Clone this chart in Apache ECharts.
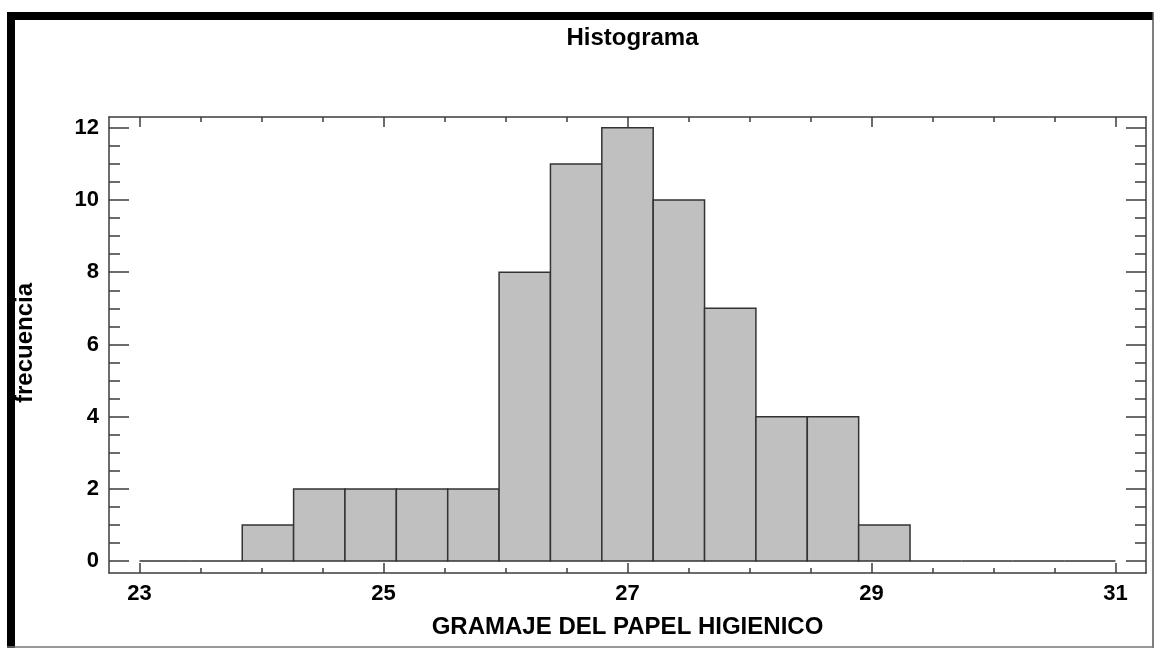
<!DOCTYPE html>
<html>
<head>
<meta charset="utf-8">
<title>Histograma</title>
<script src="https://cdn.jsdelivr.net/npm/echarts@6/dist/echarts.min.js"></script>
<style>
  html, body { margin: 0; padding: 0; background: #fff; }
  #chart { width: 1155px; height: 648px; }
</style>
</head>
<body>
<div id="chart"></div>
<script>
"use strict";

// clases del histograma: 19 clases entre 23 y 31
var classLower = 23;
var classUpper = 31;
var classCount = 19;
// frecuencia de cada clase
var frequencies = [0, 0, 1, 2, 2, 2, 2, 8, 11, 12, 10, 7, 4, 4, 1, 0, 0, 0, 0];
// etiquetas de los ejes
var xTickLabels = [23, 25, 27, 29, 31];
var yTickLabels = [0, 2, 4, 6, 8, 10, 12];

var FONT = "'Liberation Sans', Arial, sans-serif";
var AXIS_COLOR = "#3c3c3c";

function minorTicks(labels, step) {
  var out = [];
  for (var v = labels[0]; v <= labels[labels.length - 1] + 1e-9; v += step) {
    var r = Math.round(v * 100) / 100;
    if (labels.indexOf(r) < 0) out.push(r);
  }
  return out;
}

function initGraph() {
  var myChart = echarts.init(document.getElementById("chart"));
  var width = (classUpper - classLower) / classCount;
  var bins = frequencies.map(function (f, i) {
    var a = classLower + i * width;
    return [a, a + width, f];
  });

  var xMinor = minorTicks(xTickLabels, 0.5);
  var yMinor = minorTicks(yTickLabels, 0.5);

  // eje X: principal (etiquetas + marcas largas) y secundario (marcas cortas)
  function xAxis(pos, ticks, len, labels, line) {
    return {
      type: "value", position: pos, min: 22.75, max: 31.25,
      axisLine: { show: line, onZero: false, lineStyle: { color: AXIS_COLOR, width: 1.5 } },
      axisTick: { show: true, inside: true, length: len, customValues: ticks,
        lineStyle: { color: AXIS_COLOR, width: 1.5 } },
      axisLabel: { show: labels, customValues: xTickLabels, margin: 10,
        color: "#000", fontFamily: FONT, fontWeight: "bold", fontSize: 22 },
      splitLine: { show: false }
    };
  }
  function yAxis(pos, ticks, len, labels, line) {
    return {
      type: "value", position: pos, min: -0.33, max: 12.3,
      axisLine: { show: line, onZero: false, lineStyle: { color: AXIS_COLOR, width: 1.5 } },
      axisTick: { show: true, inside: true, length: len, customValues: ticks,
        lineStyle: { color: AXIS_COLOR, width: 1.5 } },
      axisLabel: { show: labels, customValues: yTickLabels, margin: 10,
        color: "#000", fontFamily: FONT, fontWeight: "bold", fontSize: 22 },
      splitLine: { show: false }
    };
  }

  var option = {
    backgroundColor: "#fff",
    animation: false,
    title: {
      text: "Histograma",
      left: 627.5, top: 21, textAlign: "center",
      textStyle: { color: "#000", fontFamily: FONT, fontWeight: "bold", fontSize: 24 }
    },
    grid: { left: 109, top: 117, right: 9, bottom: 75, containLabel: false, outerBoundsMode: "none" },
    xAxis: [
      xAxis("bottom", xTickLabels, 10, true, true),
      xAxis("bottom", xMinor, 5, false, false),
      xAxis("top", xTickLabels, 10, false, true),
      xAxis("top", xMinor, 5, false, false)
    ],
    yAxis: [
      yAxis("left", yTickLabels, 20, true, true),
      yAxis("left", yMinor, 11, false, false),
      yAxis("right", yTickLabels, 20, false, true),
      yAxis("right", yMinor, 11, false, false)
    ],
    series: [{
      type: "custom",
      xAxisIndex: 0, yAxisIndex: 0,
      encode: { x: [0, 1], y: 2 },
      data: bins,
      renderItem: function (params, api) {
        var p0 = api.coord([api.value(0), api.value(2)]);
        var p1 = api.coord([api.value(1), 0]);
        return {
          type: "rect",
          shape: { x: p0[0], y: p0[1], width: p1[0] - p0[0], height: p1[1] - p0[1] },
          style: { fill: "#c0c0c0", stroke: "#333", lineWidth: 1.5 }
        };
      }
    }],
    graphic: [
      // marco exterior
      { type: "rect", shape: { x: 7, y: 12, width: 1146, height: 8 }, style: { fill: "#000" } },
      { type: "rect", shape: { x: 7, y: 12, width: 8, height: 636 }, style: { fill: "#000" } },
      { type: "line", shape: { x1: 1153, y1: 12, x2: 1153, y2: 648 }, style: { stroke: "#555", lineWidth: 1.5 } },
      { type: "line", shape: { x1: 7, y1: 647, x2: 1153, y2: 647 }, style: { stroke: "#777", lineWidth: 1.5 } },
      // títulos de ejes
      { type: "text", x: 627.5, y: 627, style: { text: "GRAMAJE DEL PAPEL HIGIENICO",
        fill: "#000", font: "bold 24px " + FONT, align: "center", verticalAlign: "middle" } },
      { type: "text", x: 25, y: 343, rotation: Math.PI / 2, style: { text: "frecuencia",
        fill: "#000", font: "bold 24px " + FONT, align: "center", verticalAlign: "middle" } }
    ]
  };
  myChart.setOption(option);
  window.onresize = function () {
    myChart.resize();
  };
  return myChart;
}

initGraph();
</script>
</body>
</html>
